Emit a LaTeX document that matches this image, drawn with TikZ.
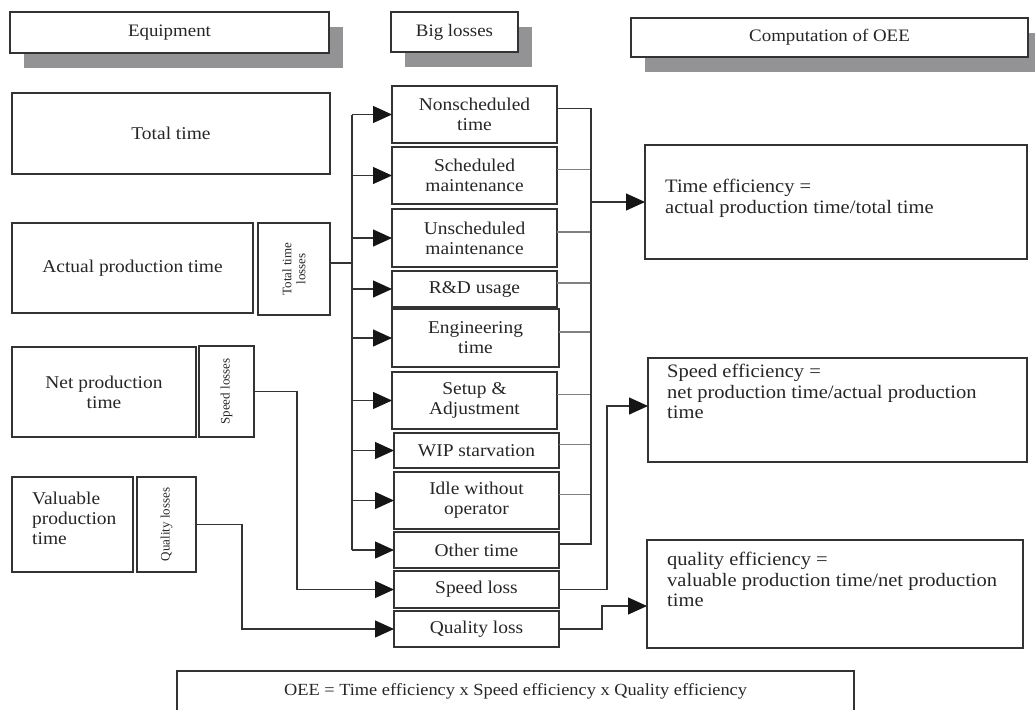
\documentclass[tikz,border=0pt]{standalone}
\usepackage{fontspec}
\setmainfont{Liberation Serif}[FakeStretch=1.08]
\newfontfamily\plainserif{Liberation Serif}
\usetikzlibrary{arrows.meta,shadows}

\definecolor{linec}{HTML}{333333}
\definecolor{stubc}{HTML}{808080}
\definecolor{shadowc}{HTML}{939396}
\definecolor{textc}{HTML}{262626}
\definecolor{tipc}{HTML}{151515}

\tikzset{
  box/.style={draw=linec, line width=1.3pt, inner sep=0pt, outer sep=0pt,
    anchor=north west, align=center, text=textc,
    font=\fontsize{18}{20}\selectfont},
  hdr/.style={box, fill=white, font=\fontsize{17.5}{19}\selectfont,
    drop shadow={shadow xshift=14pt, shadow yshift=-15pt, fill=shadowc, opacity=1}},
  rot/.style={rotate=90, font=\plainserif\fontsize{13}{14}\selectfont,
    text=textc, align=center, inner sep=0pt},
  conn/.style={draw=linec, line width=1.2pt},
  stub/.style={draw=stubc, line width=1.2pt},
  arr/.style={conn, -{Triangle[length=19pt,width=17pt,color=tipc]}},
  efftext/.style={text=textc, align=left, anchor=north west, inner sep=0pt,
    font=\fontsize{19}{20.5}\selectfont},
}

\begin{document}
\begin{tikzpicture}[x=1pt,y=-1pt]
\useasboundingbox (0,0) rectangle (1035,709);

% column headers
\node[hdr, minimum width=319pt, minimum height=41pt] (hEq)  at (10,12)  {Equipment};
\node[hdr, minimum width=127pt, minimum height=40pt] (hBig) at (391,12) {Big losses};
\node[hdr, minimum width=397pt, minimum height=39pt] (hOee) at (631,18) {Computation of OEE};

% equipment time categories
\node[box, minimum width=318pt, minimum height=81pt] (total)  at (12,93)  {Total time};
\node[box, minimum width=241pt, minimum height=90pt] (actual) at (12,223) {Actual production time};
\node[box, minimum width=72pt,  minimum height=92pt] (ttl)    at (258,223) {};
\node[rot] (ttlT) at (ttl.center) {Total time\\losses};
\node[box, minimum width=184pt, minimum height=90pt] (net)    at (12,347) {Net production\\time};
\node[box, minimum width=55pt,  minimum height=91pt] (spl)    at (199,346) {};
\node[rot] (splT) at (spl.center) {Speed losses};
\node[box, minimum width=121pt, minimum height=95pt] (val)    at (12,477) {};
\node[anchor=west, align=left, inner sep=0pt, text=textc, font=\fontsize{18}{20}\selectfont]
  (valT) at ([xshift=20pt,yshift=6pt]val.west) {Valuable\\production\\time};
\node[box, minimum width=59pt,  minimum height=95pt] (qll)    at (137,477) {};
\node[rot] (qllT) at (qll.center) {Quality losses};

% big losses
\node[box, minimum width=165pt, minimum height=57pt] (ns)   at (392,86)  {Nonscheduled\\time};
\node[box, minimum width=165pt, minimum height=57pt] (sm)   at (392,147) {Scheduled\\maintenance};
\node[box, minimum width=165pt, minimum height=58pt] (um)   at (392,209) {Unscheduled\\maintenance};
\node[box, minimum width=165pt, minimum height=36pt] (rd)   at (392,271) {R\&D usage};
\node[box, minimum width=167pt, minimum height=58pt] (et)   at (392,309) {Engineering\\time};
\node[box, minimum width=165pt, minimum height=57pt] (sa)   at (392,372) {Setup \&\\Adjustment};
\node[box, minimum width=165pt, minimum height=35pt] (wip)  at (394,433) {WIP starvation};
\node[box, minimum width=165pt, minimum height=57pt] (idle) at (394,472) {Idle without\\operator};
\node[box, minimum width=165pt, minimum height=36pt] (oth)  at (394,532) {Other time};
\node[box, minimum width=165pt, minimum height=37pt] (sl)   at (394,571) {Speed loss};
\node[box, minimum width=165pt, minimum height=36pt] (ql)   at (394,611) {Quality loss};

% efficiency definitions
\node[box, minimum width=382pt, minimum height=114pt] (te) at (645,145) {};
\node[efftext] (teT) at ([xshift=20pt,yshift=-34pt]te.north west)
  {Time efficiency =\\actual production time/total time};
\node[box, minimum width=379pt, minimum height=104pt] (se) at (648,358) {};
\node[efftext] (seT) at ([xshift=19pt,yshift=-6pt]se.north west)
  {Speed efficiency =\\net production time/actual production\\time};
\node[box, minimum width=376pt, minimum height=108pt] (qe) at (647,540) {};
\node[efftext] (qeT) at ([xshift=20pt,yshift=-12pt]qe.north west)
  {quality efficiency =\\valuable production time/net production\\time};

% overall formula
\node[box, minimum width=677pt, minimum height=40pt, font=\fontsize{17}{19}\selectfont]
  (oee) at (177,671) {OEE = Time efficiency x Speed efficiency x Quality efficiency};

% bus coordinates
\coordinate (busL) at (352,0);
\coordinate (busR) at (591,0);
\coordinate (spX)  at (607,0);
\coordinate (qX)   at (602,0);
\coordinate (slX)  at (297,0);
\coordinate (qlX)  at (242,0);

% total time losses fan out to the big losses
\coordinate (ttlOut) at ([yshift=6pt]ttl.east);
\draw[conn] (ttlOut) -- (busL |- ttlOut);
\draw[conn] (busL |- ns.west) -- (busL |- oth.west);
\foreach \n in {ns,sm,um,rd,et,sa,wip,idle,oth}
  \draw[arr] (busL |- \n.west) -- (\n.west);

% big losses collected into time efficiency
\foreach \n in {ns,sm,um,rd,et,sa,wip,idle,oth}
  \coordinate (\n-o) at ([yshift=6pt]\n.east);
\foreach \n in {sm,um,rd,et,sa,wip,idle}
  \draw[stub] (\n-o) -- (busR |- \n-o);
\draw[conn] (ns-o) -- (busR |- ns-o) -- (busR |- oth-o) -- (oth-o);
\draw[arr] (busR |- te.west) -- (te.west);

% speed losses
\draw[arr] (spl.east) -- (spl.east -| slX) |- (sl.west);
\coordinate (seIn) at ([yshift=4pt]se.west);
\draw[arr] (sl.east) -- (sl.east -| spX) |- (seIn);

% quality losses
\draw[arr] (qll.east) -- (qll.east -| qlX) |- (ql.west);
\coordinate (qeIn) at ([yshift=-12pt]qe.west);
\draw[arr] (ql.east) -- (ql.east -| qX) |- (qeIn);
\end{tikzpicture}
\end{document}
